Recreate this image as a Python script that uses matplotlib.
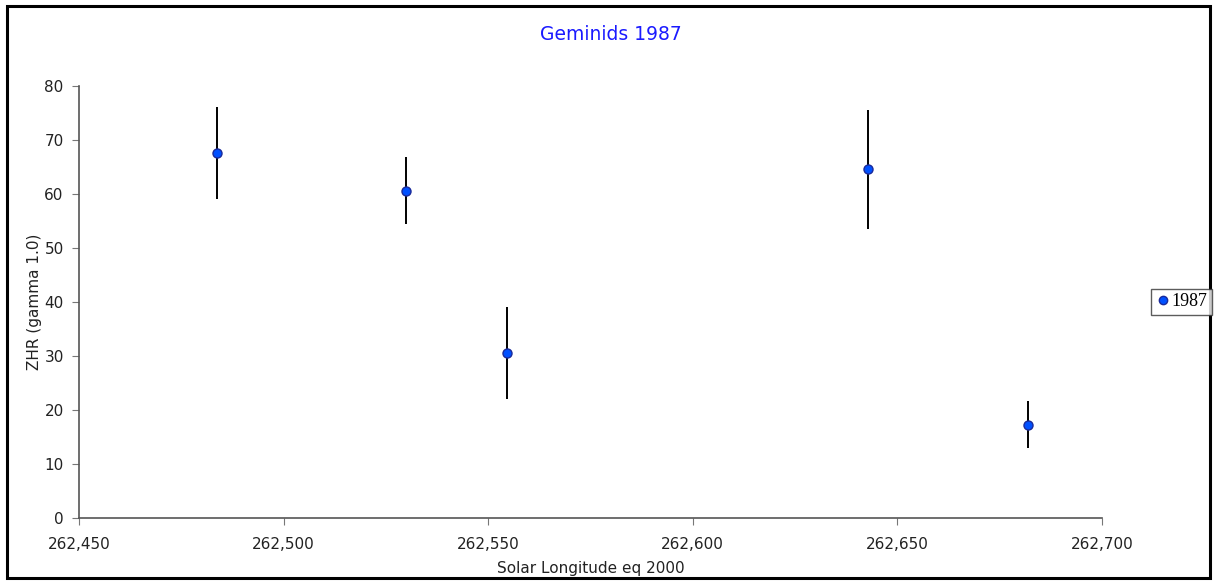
import matplotlib
matplotlib.use("Agg")
import matplotlib.pyplot as plt
from matplotlib.patches import Rectangle
from matplotlib.lines import Line2D

# data
solar_long = [262.4837, 262.5299, 262.5546, 262.6428, 262.6819]
zhr = [67.6, 60.6, 30.6, 64.6, 17.3]
zhr_err = [8.6, 6.2, 8.5, 11.0, 4.4]
x_ticks = [262.45, 262.50, 262.55, 262.60, 262.65, 262.70]
x_labels = ['262,450', '262,500', '262,550', '262,600', '262,650', '262,700']
y_ticks = [0, 10, 20, 30, 40, 50, 60, 70, 80]

fig = plt.figure(figsize=(12.17, 5.84), dpi=100)
ax = fig.add_axes([79/1217, 1 - 518/584, (1102-79)/1217, (518-86)/584])

ax.errorbar(solar_long, zhr, yerr=zhr_err, fmt='o', color='#0050ff',
            markeredgecolor='#1a2a9a', markersize=6.5, ecolor='black',
            elinewidth=1.4, capsize=0, zorder=3)

ax.set_xlim(262.45, 262.70)
ax.set_ylim(0, 80)
ax.set_xticks(x_ticks)
ax.set_xticklabels(x_labels)
ax.set_yticks(y_ticks)

for s in ['top', 'right']:
    ax.spines[s].set_visible(False)
for s in ['left', 'bottom']:
    ax.spines[s].set_color('#555555')
    ax.spines[s].set_linewidth(1.2)
ax.tick_params(axis='both', direction='out', length=5, color='#777777',
               labelsize=11, labelcolor='#222222')
ax.tick_params(axis='x', pad=9)
ax.tick_params(axis='y', pad=6)

ax.set_xlabel('Solar Longitude eq 2000', fontsize=11, color='#222222', labelpad=6)
ax.set_ylabel('ZHR (gamma 1.0)', fontsize=11, color='#222222', labelpad=2)
fig.text(611/1217, 1 - 34/584, 'Geminids 1987', ha='center', va='center',
         fontsize=13.5, color='#1a1aff')

handle = Line2D([], [], linestyle='none', marker='o', color='#0050ff',
                markeredgecolor='#1a2a9a', markersize=6)
leg = fig.legend([handle], ['1987'], loc='center right',
                 bbox_to_anchor=(1212/1217, 1 - 302/584),
                 frameon=True, fancybox=False, handletextpad=0.1,
                 borderpad=0.25, handlelength=0.8, borderaxespad=0,
                 prop={'family': 'Liberation Serif', 'size': 13})
leg.get_frame().set_edgecolor('#333333')
leg.get_frame().set_linewidth(1.0)

# outer frame of the chart
fig.patches.append(Rectangle((7/1217, 6/584), 1203/1217, 572/584,
                             transform=fig.transFigure, fill=False,
                             edgecolor='black', linewidth=2.2))

fig.savefig('out.png', dpi=100)
